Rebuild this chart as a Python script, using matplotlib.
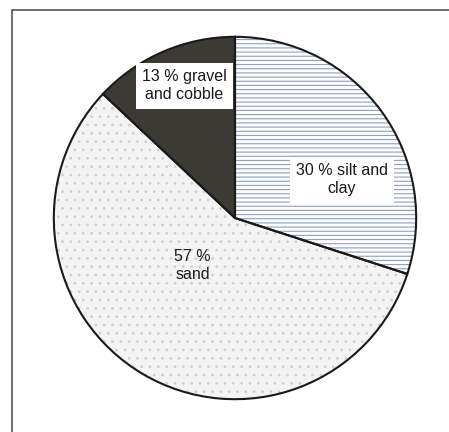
import matplotlib
matplotlib.use('Agg')
import matplotlib.pyplot as plt
from matplotlib.patches import Rectangle

# slice data, counterclockwise from the top
labels = ['13 % gravel\nand cobble', '57 %\nsand', '30 % silt and\nclay']
shares = [13, 57, 30]

plt.rcParams['font.family'] = ['Liberation Sans', 'DejaVu Sans']
plt.rcParams['hatch.linewidth'] = 0.8

fig = plt.figure(figsize=(4.49, 4.32), dpi=100)
fig.patch.set_facecolor('white')

# frame around the chart (only left and top edges fall inside the picture)
fig.patches.append(Rectangle((12 / 449, -0.01), 1.0, 1 - 10 / 432 + 0.01,
                             transform=fig.transFigure, fill=False,
                             edgecolor='#555555', linewidth=1.2))

ax = fig.add_axes([52 / 449, 31 / 432, 366 / 449, 366 / 432])
ax.set_aspect('equal')
ax.axis('off')

fills = ['#3b3b33', '#f4f4f4', 'white']
hatches = [None, '..', '----']
hatch_cols = ['#3b3b33', '#cfcfcf', '#8f9fc0']

# filled / hatched wedges first
wedges, _ = ax.pie(shares, startangle=90, counterclock=True, radius=1,
                   colors=fills)
for w, h, hc in zip(wedges, hatches, hatch_cols):
    w.set_edgecolor(hc)
    w.set_linewidth(0)
    if h:
        w.set_hatch(h)

# black outlines on top
outl, _ = ax.pie(shares, startangle=90, counterclock=True, radius=1,
                 colors=['none'] * 3,
                 wedgeprops=dict(edgecolor='#1a1a1a', linewidth=1.5, fill=False))

ax.set_xlim(-1.01, 1.01)
ax.set_ylim(-1.01, 1.01)

box = dict(boxstyle='square,pad=0.4', facecolor='white', edgecolor='none')
fs = 11.5
ax.text(-0.28, 0.73, labels[0], ha='center', va='center', fontsize=fs,
        color='#1a1a1a', bbox=box, linespacing=1.25)
ax.text(-0.235, -0.26, labels[1], ha='center', va='center', fontsize=fs,
        color='#1a1a1a', linespacing=1.25)
ax.text(0.59, 0.21, labels[2], ha='center', va='center', fontsize=fs,
        color='#1a1a1a', bbox=box, linespacing=1.25)

fig.savefig('out.png', dpi=100)
